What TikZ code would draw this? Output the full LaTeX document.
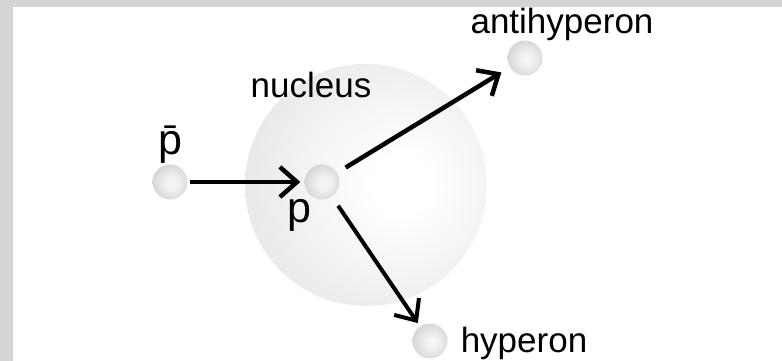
\documentclass[tikz,border=0pt]{standalone}
\usepackage{fontspec}
\setmainfont{Liberation Sans}
\usetikzlibrary{arrows.meta}

% soft sphere and nucleus shadings
\pgfdeclareradialshading{ballshade}{\pgfpoint{3bp}{-2bp}}{%
  color(0bp)=(gray!6); color(10bp)=(gray!12); color(36bp)=(gray!42); color(50bp)=(gray!68); color(80bp)=(gray!68)}
\pgfdeclareradialshading{nucleusshade}{\pgfpoint{8bp}{0bp}}{%
  color(0bp)=(white); color(6bp)=(white); color(40bp)=(gray!24); color(56bp)=(gray!34); color(90bp)=(gray!34)}

\begin{document}
\begin{tikzpicture}[x=1pt,y=-1pt,
  ball/.style={circle,minimum size=35pt,inner sep=0pt,shading=ballshade},
  lbl/.style={font=\fontsize{35}{40}\selectfont,anchor=base,inner sep=0pt},
  plbl/.style={font=\fontsize{43}{48}\selectfont,anchor=base,inner sep=0pt},
  motion/.style={line width=4.5pt,-{Straight Barb[length=17pt,width=30pt]}}]

  % page and frame strips
  \fill[white] (0,0) rectangle (782,361);
  \useasboundingbox (0,0) rectangle (782,361);
  \fill[gray!33] (0,0) rectangle (782,7);
  \fill[gray!33] (0,0) rectangle (13,361);

  % nucleus
  \path[shading=nucleusshade] (366,185) circle[radius=121];
  \node[lbl] (nucleuslbl) at (311,97) {nucleus};

  % particles
  \node[ball] (pbar) at (170,182) {};
  \node[ball] (p) at (322,182) {};
  \node[ball] (anti) at (525,58) {};
  \node[ball] (hyp) at (430,341) {};

  % labels
  \node[plbl] (pbarlbl) at (170,154) {\=p};
  \node[plbl] (plbl) at (299,222) {p};
  \node[lbl] (antilbl) at (562,34) {antihyperon};
  \node[lbl] (hyplbl) at (524,352) {hyperon};

  % reaction arrows
  \draw[motion,shorten <=2pt,shorten >=4pt] (pbar) -- (p);
  \draw[motion,shorten <=10pt,shorten >=10pt] (p) -- (anti);
  \draw[motion,line width=4pt,shorten <=11pt,shorten >=4pt] (p) -- (hyp);
\end{tikzpicture}
\end{document}
